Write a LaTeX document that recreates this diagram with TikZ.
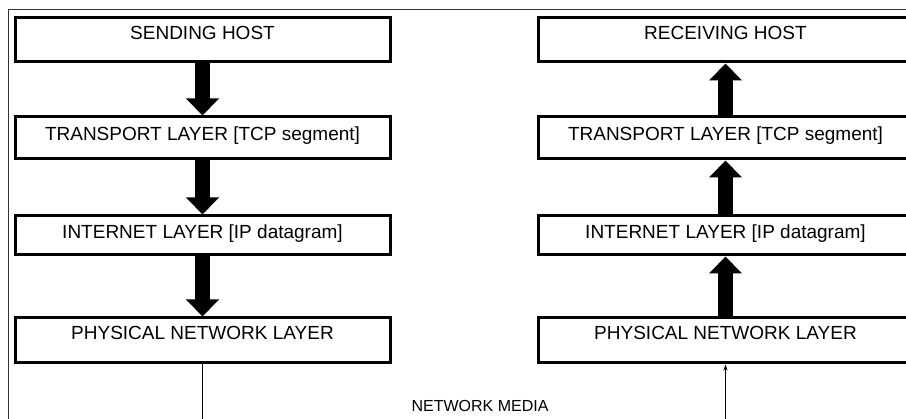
\documentclass[tikz,border=0pt]{standalone}
\usepackage{fontspec}
\setmainfont{Liberation Sans}
\usetikzlibrary{arrows.meta}
\begin{document}
\begin{tikzpicture}[x=1pt,y=-1pt,
  layerbox/.style={draw=black, line width=3pt, inner xsep=0pt, inner ysep=0pt,
    minimum width=375pt, anchor=base, font=\fontsize{19}{22}\selectfont},
  hd/.style 2 args={text height=#1pt, text depth=#2pt},
  flowarrow/.style={line width=15pt, -{Triangle[length=17pt,width=32pt]}},
  wire/.style={line width=1.1pt},
  frameline/.style={draw=black!80, line width=1pt},
  medialabel/.style={anchor=base, inner sep=0pt, font=\fontsize{16}{19}\selectfont},
]
% page and outer frame
\fill[white] (0,0) rectangle (906,419);
\clip (0,0) rectangle (906,419);
\draw[frameline] (8,430) -- (8,10) -- (920,10);

% sending side
\node[layerbox, hd={22}{22}] (lhost) at (202.5,40)  {SENDING HOST};
\node[layerbox, hd={24}{18}] (ltrn)  at (202.5,141) {TRANSPORT LAYER [TCP segment]};
\node[layerbox, hd={23}{16}] (linet) at (202.5,239) {INTERNET LAYER [IP datagram]};
\node[layerbox, hd={22}{23}] (lphys) at (202.5,340) {PHYSICAL NETWORK LAYER};

% receiving side
\node[layerbox, hd={22}{22}] (rhost) at (725.5,40)  {RECEIVING HOST};
\node[layerbox, hd={24}{18}] (rtrn)  at (725.5,141) {TRANSPORT LAYER [TCP segment]};
\node[layerbox, hd={23}{16}] (rinet) at (725.5,239) {INTERNET LAYER [IP datagram]};
\node[layerbox, hd={22}{23}] (rphys) at (725.5,340) {PHYSICAL NETWORK LAYER};

% data flowing down the sending stack
\draw[flowarrow] (lhost.south) -- (ltrn.north);
\draw[flowarrow] (ltrn.south) -- (linet.north);
\draw[flowarrow] (linet.south) -- (lphys.north);

% data flowing up the receiving stack
\draw[flowarrow] (rphys.north) -- (rinet.south);
\draw[flowarrow] (rinet.north) -- (rtrn.south);
\draw[flowarrow] (rtrn.north) -- (rhost.south);

% the shared medium
\node[medialabel] (media) at (480,412) {NETWORK MEDIA};
\coordinate (lwire) at (lphys.south |- 0,430);
\coordinate (rwire) at (rphys.south |- 0,430);
\draw[wire] (lphys.south) -- (lwire);
\draw[wire, -{Stealth[length=6pt,width=4pt]}] (rwire) -- (rphys.south);
\end{tikzpicture}
\end{document}
